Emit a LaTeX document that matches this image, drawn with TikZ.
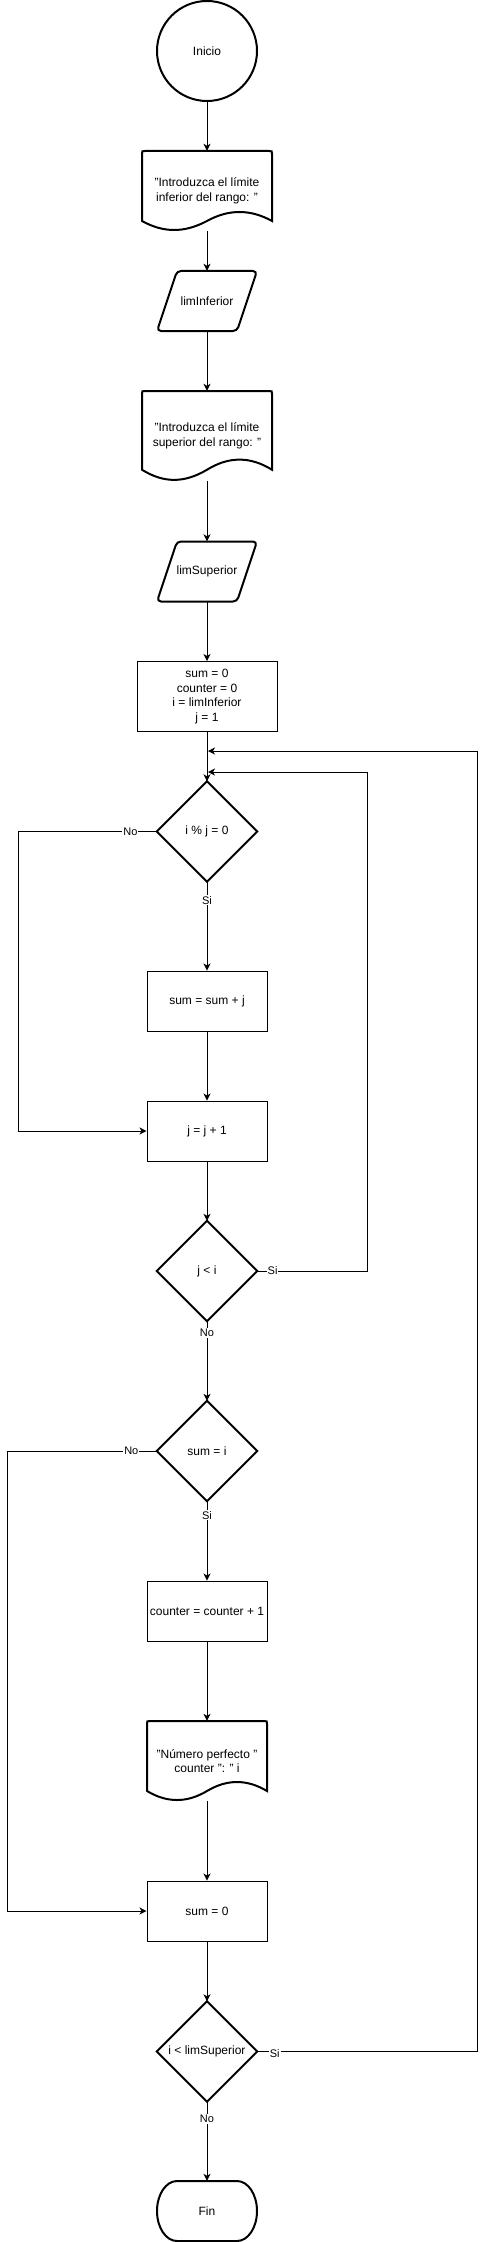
\documentclass[tikz,border=0pt]{standalone}
\usepackage{fontspec}
\setmainfont{Liberation Sans}
\usetikzlibrary{arrows.meta,calc}
\tikzset{
  txt/.style={font=\fontsize{12}{14.4}\selectfont, align=center, inner sep=0pt},
  circ/.style={txt, circle, draw, line width=2pt, minimum size=100pt},
  box/.style={txt, rectangle, draw=none},
  procbox/.style={txt, rectangle, draw, line width=1pt, minimum width=120pt, minimum height=60pt},
  outl/.style={draw, line width=2pt},
  edge/.style={line width=1pt, -{Stealth[length=7pt,width=7pt,inset=2pt]}},
  plainedge/.style={line width=1pt},
  lbl/.style={font=\fontsize{11}{13}\selectfont, fill=white, inner sep=1pt},
}
\begin{document}
\begin{tikzpicture}[x=1pt,y=-1pt]
\useasboundingbox[fill=white] (0,0) rectangle (486,2242);

% ---- nodes ----
\node[circ] (start) at (207,51) {Inicio};

\node[box, minimum width=130pt, minimum height=80pt] (doc1) at (207,191) {"Introduzca el límite\\inferior del rango: "};
\draw[outl] (142,221) -- (142,154) .. controls (142,151) .. (145,151) -- (269,151) .. controls (272,151) .. (272,154) -- (272,221)
  .. controls (250.33,209) and (228.67,209) .. (207,221)
  .. controls (184.33,233) and (163.67,233) .. (142,221) -- cycle;

\node[box, minimum width=100pt, minimum height=60pt] (par1) at (207,301) {limInferior};
\draw[outl, rounded corners=4pt] (177,271) -- (257,271) -- (237,331) -- (157,331) -- cycle;

\node[box, minimum width=130pt, minimum height=90pt] (doc2) at (207,436) {"Introduzca el límite\\superior del rango: "};
\draw[outl] (142,469.75) -- (142,394) .. controls (142,391) .. (145,391) -- (269,391) .. controls (272,391) .. (272,394) -- (272,469.75)
  .. controls (250.33,456.25) and (228.67,456.25) .. (207,469.75)
  .. controls (184.33,483.25) and (163.67,483.25) .. (142,469.75) -- cycle;

\node[box, minimum width=100pt, minimum height=60pt] (par2) at (207,571.5) {limSuperior};
\draw[outl, rounded corners=4pt] (177,541.5) -- (257,541.5) -- (237,601.5) -- (157,601.5) -- cycle;

\node[procbox, minimum width=140pt, minimum height=70pt] (init) at (207,696.5) {sum = 0\\counter = 0\\i = limInferior\\j = 1};

\node[box, minimum width=100pt, minimum height=100pt] (dia1) at (207,831.5) {i \% j = 0};
\draw[outl] (dia1.north) -- (dia1.east) -- (dia1.south) -- (dia1.west) -- cycle;

\node[procbox] (r2) at (207,1001) {sum = sum + j};
\node[procbox] (r3) at (207,1131) {j = j + 1};

\node[box, minimum width=100pt, minimum height=100pt] (dia2) at (207,1271) {j < i};
\draw[outl] (dia2.north) -- (dia2.east) -- (dia2.south) -- (dia2.west) -- cycle;

\node[box, minimum width=100pt, minimum height=100pt] (dia3) at (207,1451) {sum = i};
\draw[outl] (dia3.north) -- (dia3.east) -- (dia3.south) -- (dia3.west) -- cycle;

\node[procbox] (r4) at (207,1611) {counter = counter + 1};

\node[box, minimum width=120pt, minimum height=80pt] (doc3) at (207,1761) {"Número perfecto "\\counter ": " i};
\draw[outl] (147,1791) -- (147,1724) .. controls (147,1721) .. (150,1721) -- (264,1721) .. controls (267,1721) .. (267,1724) -- (267,1791)
  .. controls (247,1779) and (227,1779) .. (207,1791)
  .. controls (187,1803) and (167,1803) .. (147,1791) -- cycle;

\node[procbox] (r5) at (207,1911) {sum = 0};

\node[box, minimum width=100pt, minimum height=100pt] (dia4) at (207,2051.5) {i < limSuperior};
\draw[outl] (dia4.north) -- (dia4.east) -- (dia4.south) -- (dia4.west) -- cycle;

\node[box, minimum width=100pt, minimum height=60pt] (fin) at (207,2211) {Fin};
\draw[outl] (177,2181) -- (237,2181) .. controls (248.05,2181) and (257,2194.43) .. (257,2211)
  .. controls (257,2227.57) and (248.05,2241) .. (237,2241) -- (177,2241)
  .. controls (165.95,2241) and (157,2227.57) .. (157,2211)
  .. controls (157,2194.43) and (165.95,2181) .. (177,2181) -- cycle;

% ---- loop coordinates ----
\coordinate (lp1) at (477,751);
\coordinate (lp1e) at (208,751);
\coordinate (lp2) at (367,772);
\coordinate (lp2e) at (208,772);
\coordinate (n1) at (18,831.5);
\coordinate (n3) at (7,1451);

% ---- connectors ----
\draw[edge] (start.south) -- (doc1.north);
\draw[edge] (doc1.south) -- (par1.north);
\draw[edge] (par1.south) -- (doc2.north);
\draw[edge] (doc2.south) -- (par2.north);
\draw[edge] (par2.south) -- (init.north);
\draw[edge] (init.south) -- (dia1.north);
\draw[edge] (dia1.south) -- node[lbl,pos=.21]{Si} (r2.north);
\draw[edge] (r2.south) -- (r3.north);
\draw[edge] (dia1.west) -- node[lbl,pos=.19]{No} (n1) |- (r3.west);
\draw[edge] (r3.south) -- (dia2.north);
\draw[edge] (dia2.east) -- node[lbl,pos=.14]{Si} (dia2.east -| lp2) -- (lp2) -- (lp2e);
\draw[edge] (dia2.south) -- node[lbl,pos=.15]{No} (dia3.north);
\draw[edge] (dia3.south) -- node[lbl,pos=.175]{Si} (r4.north);
\draw[edge] (dia3.west) -- node[lbl,pos=.17]{No} (n3) |- (r5.west);
\draw[edge] (r4.south) -- (doc3.north);
\draw[edge] (doc3.south) -- (r5.north);
\draw[edge] (r5.south) -- (dia4.north);
\draw[edge] (dia4.east) -- node[lbl,pos=.08,yshift=-2pt]{Si} (dia4.east -| lp1) -- (lp1) -- (lp1e);
\draw[edge] (dia4.south) -- node[lbl,pos=.22]{No} (fin.north);
\end{tikzpicture}
\end{document}
